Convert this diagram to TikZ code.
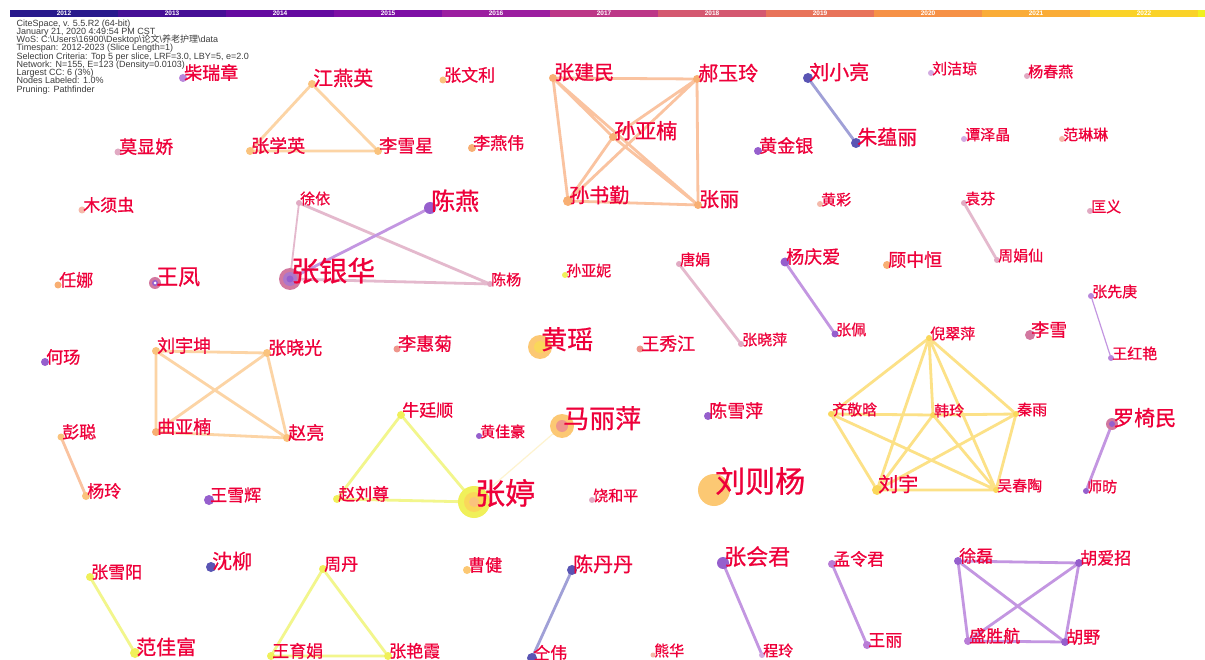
\documentclass[tikz,border=0pt]{standalone}
\usepackage{fontspec}
\setmainfont{Liberation Sans}
\newfontfamily\cjk[FakeBold=0.8]{Noto Sans CJK SC}
\newfontfamily\cjkplain{Noto Sans CJK SC}
\newcommand\hdrfont{\fontsize{9}{8.25}\selectfont\lineskiplimit=-6pt\relax\lineskip=0pt\relax}
\usetikzlibrary{backgrounds}
\definecolor{lab}{RGB}{238,0,58}
\definecolor{hdr}{RGB}{60,60,60}
% year colours
\definecolor{y12}{RGB}{40,25,140}
\definecolor{y13}{RGB}{70,15,150}
\definecolor{y14}{RGB}{100,10,160}
\definecolor{y15}{RGB}{125,15,165}
\definecolor{y16}{RGB}{155,30,160}
\definecolor{y17}{RGB}{188,55,135}
\definecolor{y18}{RGB}{212,88,112}
\definecolor{y19}{RGB}{232,115,90}
\definecolor{y20}{RGB}{246,145,70}
\definecolor{y21}{RGB}{250,172,55}
\definecolor{y22}{RGB}{250,210,40}
\definecolor{y23}{RGB}{240,240,30}
% dot colours
\definecolor{navy}{RGB}{90,85,180}
\definecolor{purp}{RGB}{150,95,205}
\definecolor{purpL}{RGB}{185,135,220}
\definecolor{lilac}{RGB}{185,125,215}
\definecolor{lilacL}{RGB}{210,170,225}
\definecolor{pinkD}{RGB}{210,120,160}
\definecolor{pinkL}{RGB}{225,170,195}
\definecolor{salmon}{RGB}{238,150,140}
\definecolor{salmonL}{RGB}{245,185,170}
\definecolor{orng}{RGB}{248,175,115}
\definecolor{orL}{RGB}{250,195,125}
\definecolor{gold}{RGB}{252,200,115}
\definecolor{lemon}{RGB}{250,215,90}
\definecolor{yel}{RGB}{240,240,90}
% edge colours
\definecolor{eOr}{RGB}{250,195,160}
\definecolor{eOrL}{RGB}{252,212,165}
\definecolor{eLem}{RGB}{252,225,135}
\definecolor{eYel}{RGB}{242,246,140}
\definecolor{ePink}{RGB}{228,185,205}
\definecolor{ePurp}{RGB}{195,150,225}
\definecolor{eNavy}{RGB}{160,160,215}
\pgfdeclarelayer{bg}
\pgfdeclarelayer{edges}
\pgfdeclarelayer{dots}
\pgfsetlayers{bg,edges,dots,main}
\tikzset{
  dotnode/.style={circle, inner sep=0pt, outer sep=0pt, draw=none},
  lbl/.style={text=lab, inner sep=0pt, anchor=base west},
  link/.style={line width=2.8pt, line cap=round},
  thin link/.style={line width=1.2pt, line cap=round},
  yearlbl/.style={text=white, font=\fontsize{6.5}{7}\selectfont\bfseries, inner sep=0pt},
}
% #1 name, #2 x, #3 y, #4 radius, #5 colour, #6 font size, #7 text
\newcommand\au[7]{%
  \begin{pgfonlayer}{dots}
  \node[dotnode, fill=#5, minimum size={2*#4 pt}] (#1) at (#2,#3) {};
  \end{pgfonlayer}
  \node[lbl, font=\cjk\fontsize{#6}{#6}\selectfont] (#1-t) at ([shift={(1,{0.08*#6})}]#1.center) {#7};
}
\begin{document}
\begin{tikzpicture}[x=1pt,y=-1pt]
\begin{pgfonlayer}{bg}
\fill[white] (0,0) rectangle (1205,660);
\end{pgfonlayer}
\useasboundingbox (0,0) rectangle (1205,660);
% colour bar
\foreach \i/\c/\yr in {0/y12/2012,1/y13/2013,2/y14/2014,3/y15/2015,4/y16/2016,5/y17/2017,6/y18/2018,7/y19/2019,8/y20/2020,9/y21/2021,10/y22/2022}{
  \fill[\c] ({10+108*\i},10) rectangle ({118+108*\i},17);
  \node[yearlbl] (yr\i) at ({64+108*\i},13.7) {\yr};
}
\fill[y23] (1198,10) rectangle (1205,17);
% header
\node[anchor=north west, inner sep=0pt, align=left, text=hdr, font=\hdrfont] (hdr) at (16.5,19.5) {%
CiteSpace, v. 5.5.R2 (64-bit)\\
January 21, 2020 4:49:54 PM CST\\
WoS: C:\textbackslash Users\textbackslash 16900\textbackslash Desktop\textbackslash{\cjkplain 论文}\textbackslash{\cjkplain 养老护理}\textbackslash data\\
Timespan: 2012-2023 (Slice Length=1)\\
Selection Criteria: Top 5 per slice, LRF=3.0, LBY=5, e=2.0\\
Network: N=155, E=123 (Density=0.0103)\\
Largest CC: 6 (3\%)\\
Nodes Labeled: 1.0\%\\
Pruning: Pathfinder};
% authors
\au{crz}{183}{78}{4}{purpL}{18}{柴瑞章}
\au{jyy}{312}{84}{4}{orL}{20}{江燕英}
\au{zwl}{443}{80}{3.5}{orL}{17}{张文利}
\au{zjm}{553}{78}{4}{orng}{20}{张建民}
\au{hyl}{697}{79}{4}{orng}{20}{郝玉玲}
\au{lxl}{808}{78}{5}{navy}{20}{刘小亮}
\au{ljq}{931}{73}{3}{lilacL}{15}{刘洁琼}
\au{ycy}{1027}{76}{3}{pinkL}{15}{杨春燕}
\au{mxj}{118}{152}{3.5}{pinkL}{18}{莫显娇}
\au{zxy}{250}{151}{4}{orL}{18}{张学英}
\au{lxx}{378}{151}{4}{orL}{18}{李雪星}
\au{lyw}{472}{148}{4}{orng}{17}{李燕伟}
\au{syn}{613}{137}{4}{orng}{21}{孙亚楠}
\au{hjy}{758}{151}{4}{purp}{18}{黄金银}
\au{zyl}{856}{143}{5}{navy}{20}{朱蕴丽}
\au{tzj}{964}{139}{3}{lilacL}{15}{谭泽晶}
\au{fll}{1062}{139}{3}{salmonL}{15}{范琳琳}
\au{mxc}{82}{210}{3.5}{salmonL}{17}{木须虫}
\au{xy}{299}{203}{3}{pinkL}{15}{徐依}
\au{cy}{430}{208}{6}{purp}{24}{陈燕}
\au{ssq}{568}{201}{5}{orng}{20}{孙书勤}
\au{zl}{698}{205}{4}{orng}{20}{张丽}
\au{hc}{820}{204}{3}{salmonL}{15}{黄彩}
\au{yf}{964}{203}{3}{pinkL}{15}{袁芬}
\au{ky}{1090}{211}{3}{pinkL}{15}{匡义}
\au{rn}{58}{285}{3.5}{orng}{17}{任娜}
\au{wf}{155}{283}{6}{pinkD}{22}{王凤}
\au{zyh}{290}{279}{11}{pinkD}{28}{张银华}
\au{cyang}{490}{284}{3}{pinkL}{15}{陈杨}
\au{syni}{565}{275}{3}{yel}{15}{孙亚妮}
\au{tj}{679}{264}{3}{pinkL}{15}{唐娟}
\au{yqa}{785}{262}{4.5}{purp}{18}{杨庆爱}
\au{gzh}{887}{265}{4}{orng}{18}{顾中恒}
\au{zjx}{997}{260}{3}{pinkL}{15}{周娟仙}
\au{zxgeng}{1091}{296}{3}{purpL}{15}{张先庚}
\au{hyang}{45}{362}{4}{purp}{17}{何玚}
\au{lyk}{156}{351}{4}{orL}{18}{刘宇坤}
\au{zxg}{267}{353}{4}{orL}{18}{张晓光}
\au{lhj}{397}{349}{3.5}{salmon}{18}{李惠菊}
\au{hyao}{540}{347}{12}{gold}{26}{黄瑶}
\au{wxj}{640}{349}{3.5}{salmon}{18}{王秀江}
\au{zxp}{741}{344}{3}{pinkL}{15}{张晓萍}
\au{zp}{835}{334}{3.5}{purp}{15}{张佩}
\au{ncp}{929}{338}{3}{lemon}{15}{倪翠萍}
\au{lx}{1030}{335}{5}{pinkD}{18}{李雪}
\au{why}{1111}{358}{3}{purpL}{15}{王红艳}
\au{pc}{61}{437}{3.5}{orL}{17}{彭聪}
\au{qyn}{156}{432}{4}{orng}{18}{曲亚楠}
\au{zliang}{287}{438}{4}{orL}{18}{赵亮}
\au{nts}{401}{415}{4}{yel}{17}{牛廷顺}
\au{hjh}{479}{436}{3}{purp}{15}{黄佳豪}
\au{mlp}{562}{426}{12}{gold}{26}{马丽萍}
\au{cxp}{708}{416}{4}{purp}{18}{陈雪萍}
\au{qjh}{831}{414}{3}{lemon}{15}{齐敬晗}
\au{hl}{933}{415}{3}{lemon}{15}{韩玲}
\au{qy}{1016}{414}{3}{lemon}{15}{秦雨}
\au{lym}{1112}{424}{6}{pinkD}{21}{罗椅民}
\au{yl}{86}{496}{4}{orL}{17}{杨玲}
\au{wxh}{209}{500}{5}{purp}{17}{王雪辉}
\au{zlz}{337}{499}{4}{yel}{17}{赵刘尊}
\au{zt}{474}{502}{16}{yel}{30}{张婷}
\au{rhp}{592}{500}{3}{pinkL}{15}{饶和平}
\au{lzy}{714}{490}{16}{gold}{30}{刘则杨}
\au{ly}{877}{490}{5}{lemon}{20}{刘宇}
\au{wct}{996}{490}{3}{lemon}{15}{吴春陶}
\au{sf}{1086}{491}{3}{purp}{15}{师昉}
\au{zxyang}{90}{577}{4}{yel}{17}{张雪阳}
\au{sl}{211}{567}{5}{navy}{20}{沈柳}
\au{zd}{323}{569}{4}{yel}{17}{周丹}
\au{cj}{467}{570}{4}{gold}{17}{曹健}
\au{cdd}{572}{570}{5}{navy}{20}{陈丹丹}
\au{zhj}{723}{563}{6}{purp}{22}{张会君}
\au{mlj}{832}{564}{4}{lilac}{17}{孟令君}
\au{xl}{958}{561}{4}{purp}{17}{徐磊}
\au{hai}{1079}{563}{4}{purp}{17}{胡爱招}
\au{fjf}{135}{653}{5}{yel}{20}{范佳富}
\au{wyj}{271}{656}{4}{yel}{17}{王育娟}
\au{zyx}{388}{656}{4}{yel}{17}{张艳霞}
\au{tw}{532}{658}{5}{navy}{17}{仝伟}
\au{xh}{653}{655}{2.5}{salmonL}{15}{熊华}
\au{cl}{762}{655}{3}{lilacL}{15}{程玲}
\au{wl}{867}{645}{4}{lilac}{17}{王丽}
\au{ssh}{968}{641}{4}{lilac}{17}{盛胜航}
\au{hye}{1065}{642}{4}{purp}{17}{胡野}
% inner rings of the larger nodes
\begin{pgfonlayer}{dots}
\fill[purp!70!pinkL] (zyh.center) circle (7);
\fill[purp] (zyh.center) circle (3.5);
\fill[lemon] (hyao.center) circle (6);
\fill[salmon] (mlp.center) circle (6);
\fill[lemon] (zt.center) circle (10);
\fill[orL] (zt.center) circle (5);
\fill[purp] (wf.center) circle (3);
\fill[white] (wf.center) circle (1.5);
\fill[purp] (lym.center) circle (3);
\end{pgfonlayer}
% links
\begin{pgfonlayer}{edges}
\draw[link, eOrL] (jyy) -- (zxy) (jyy) -- (lxx) (zxy) -- (lxx);
\draw[link, eOr] (zjm) -- (hyl) (zjm) -- (syn) (zjm) -- (ssq) (zjm) -- (zl)
  (hyl) -- (syn) (hyl) -- (ssq) (hyl) -- (zl) (syn) -- (ssq) (syn) -- (zl) (ssq) -- (zl);
\draw[link, eNavy] (lxl) -- (zyl);
\draw[thin link, ePink, line width=1.8pt] (xy) -- (zyh);
\draw[link, ePink] (xy) -- (cyang) (zyh) -- (cyang);
\draw[link, ePurp] (cy) -- (zyh);
\draw[link, ePink] (tj) -- (zxp) (yf) -- (zjx);
\draw[link, ePurp] (yqa) -- (zp);
\draw[thin link, ePurp] (zxgeng) -- (why);
\draw[link, eOrL] (lyk) -- (zxg) (lyk) -- (qyn) (lyk) -- (zliang) (zxg) -- (qyn) (zxg) -- (zliang) (qyn) -- (zliang);
\draw[link, eOr] (pc) -- (yl);
\draw[link, eYel] (nts) -- (zlz) (nts) -- (zt) (zlz) -- (zt);
\draw[thin link, eLem!40] (mlp) -- (zt);
\draw[link, eLem] (ncp) -- (qjh) (ncp) -- (hl) (ncp) -- (qy) (ncp) -- (ly) (ncp) -- (wct)
  (qjh) -- (hl) (hl) -- (qy) (qjh) -- (ly) (qjh) -- (wct) (hl) -- (ly) (hl) -- (wct)
  (qy) -- (ly) (qy) -- (wct) (ly) -- (wct);
\draw[link, ePurp] (lym) -- (sf);
\draw[link, eYel] (zxyang) -- (fjf) (zd) -- (wyj) (zd) -- (zyx) (wyj) -- (zyx);
\draw[link, eNavy] (cdd) -- (tw);
\draw[link, ePurp] (zhj) -- (cl) (mlj) -- (wl);
\draw[link, ePurp] (xl) -- (hai) (xl) -- (ssh) (xl) -- (hye) (hai) -- (ssh) (hai) -- (hye) (ssh) -- (hye);
\end{pgfonlayer}
\end{tikzpicture}
\end{document}
